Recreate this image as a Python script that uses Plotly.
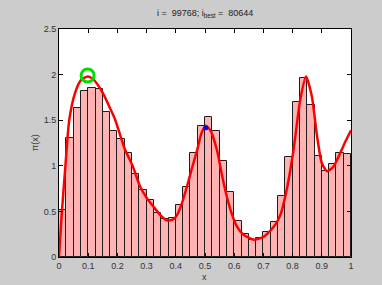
import plotly.graph_objects as go

# ---- data ----
bin_width = 0.025
hist_heights = [0.52, 1.30, 1.63, 1.82, 1.855, 1.84, 1.59, 1.385, 1.295, 1.145,
                0.91, 0.74, 0.62, 0.48, 0.415, 0.43, 0.57, 0.77, 1.14, 1.437,
                1.54, 1.385, 1.05, 0.714, 0.397, 0.25, 0.185, 0.21, 0.273, 0.386,
                0.67, 1.094, 1.70, 1.96, 1.67, 1.11, 0.94, 1.02, 1.14, 1.13]
bin_centers = [(i + 0.5) * bin_width for i in range(len(hist_heights))]

curve_x = [0.0, 0.01, 0.022, 0.035, 0.055, 0.075, 0.098, 0.12, 0.15, 0.175,
           0.193, 0.21, 0.227, 0.252, 0.278, 0.30, 0.324, 0.35, 0.37, 0.39,
           0.404, 0.42, 0.438, 0.455, 0.473, 0.488, 0.503, 0.52, 0.541, 0.558,
           0.575, 0.592, 0.61, 0.627, 0.644, 0.67, 0.70, 0.724, 0.742, 0.758,
           0.78, 0.803, 0.826, 0.846, 0.866, 0.884, 0.90, 0.918, 0.94, 0.963,
           0.98, 1.0]
curve_y = [0.0, 0.5, 1.0, 1.5, 1.8, 1.94, 1.98, 1.94, 1.80, 1.63,
           1.50, 1.33, 1.17, 1.00, 0.77, 0.65, 0.55, 0.45, 0.40, 0.41,
           0.46, 0.58, 0.77, 0.97, 1.17, 1.36, 1.44, 1.38, 1.17, 0.90,
           0.66, 0.47, 0.33, 0.26, 0.22, 0.19, 0.22, 0.29, 0.36, 0.46,
           0.74, 1.17, 1.72, 1.98, 1.76, 1.32, 1.03, 0.94, 0.99, 1.14,
           1.26, 1.39]

best_x, best_y = [0.098], [1.99]
current_x, current_y = [0.503], [1.418]

x_ticks = [0, 0.1, 0.2, 0.3, 0.4, 0.5, 0.6, 0.7, 0.8, 0.9, 1]
x_ticktext = ["0", "0.1", "0.2", "0.3", "0.4", "0.5", "0.6", "0.7", "0.8", "0.9", "1"]
y_ticks = [0, 0.5, 1, 1.5, 2, 2.5]
y_ticktext = ["0", "0.5", "1", "1.5", "2", "2.5"]

title_text = "i =  99768; i<sub>best</sub> =  80644"
x_label = "x"
y_label = "π(x)"

font_family = "Liberation Sans, Arial, sans-serif"
text_color = "#333333"

fig = go.Figure()
fig.add_trace(go.Bar(
    x=bin_centers, y=hist_heights, width=bin_width,
    marker=dict(color="rgb(255,179,179)", line=dict(color="rgb(30,30,30)", width=1)),
    showlegend=False, hoverinfo="skip"))
fig.add_trace(go.Scatter(
    x=curve_x, y=curve_y, mode="lines",
    line=dict(color="rgb(255,0,0)", width=2.5, shape="spline", smoothing=0.6),
    showlegend=False, hoverinfo="skip"))
fig.add_trace(go.Scatter(
    x=best_x, y=best_y, mode="markers",
    marker=dict(symbol="circle-open", size=13, color="rgb(0,220,0)",
                line=dict(width=3, color="rgb(0,220,0)")),
    showlegend=False))
fig.add_trace(go.Scatter(
    x=current_x, y=current_y, mode="markers",
    marker=dict(symbol="circle", size=5, color="rgb(0,0,230)"),
    showlegend=False))

axis_common = dict(
    showline=True, linecolor="black", linewidth=1, mirror="ticks",
    ticks="inside", ticklen=4, tickcolor="black", tickwidth=1,
    showgrid=False, zeroline=False, automargin=False,
    tickfont=dict(family=font_family, size=9, color=text_color),
)

fig.update_layout(
    width=382, height=285,
    margin=dict(l=59, r=31, t=29, b=28, pad=0),
    paper_bgcolor="rgb(204,204,204)", plot_bgcolor="white",
    bargap=0,
    font=dict(family=font_family, size=9, color=text_color),
    title=dict(text=title_text, x=0.537, xanchor="center", xref="container",
               y=0.954, yanchor="middle", yref="container",
               font=dict(family=font_family, size=9, color="#222222")),
    xaxis=dict(range=[0, 1], tickvals=x_ticks, ticktext=x_ticktext, **axis_common),
    yaxis=dict(range=[0, 2.5], tickvals=y_ticks, ticktext=y_ticktext, **axis_common),
    annotations=[
        dict(text=x_label, xref="paper", yref="paper", x=0.497, y=-0.088,
             xanchor="center", yanchor="middle", showarrow=False,
             font=dict(family=font_family, size=9, color=text_color)),
        dict(text=y_label, xref="paper", yref="paper", x=-0.082, y=0.5,
             xanchor="center", yanchor="middle", showarrow=False, textangle=-90,
             font=dict(family=font_family, size=9, color=text_color)),
    ],
)

fig.write_html("out.html",
               config={"displayModeBar": False},
               post_script="document.body.style.margin='0';document.body.style.padding='0';")
